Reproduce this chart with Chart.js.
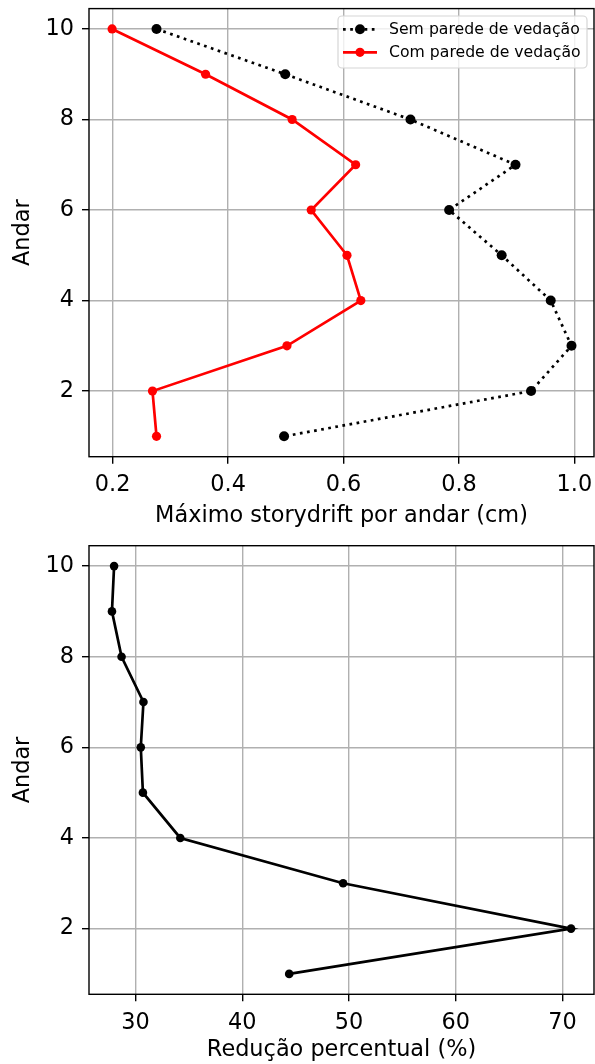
<!DOCTYPE html>
<html>
<head>
<meta charset="utf-8">
<script src="https://cdn.jsdelivr.net/npm/chart.js@4"></script>
<style>
  body { margin: 0; background: #fff; }
  .box { position: absolute; left: 0; width: 595px; height: 532px; }
</style>
</head>
<body>
<div class="box" style="top:0"><canvas id="drift" width="595" height="532"></canvas></div>
<div class="box" style="top:532px"><canvas id="reducao" width="595" height="532"></canvas></div>
<script>
// floors, top to bottom
const andares = [10, 9, 8, 7, 6, 5, 4, 3, 2, 1];
// max storydrift per floor (cm)
const semParede = [0.276, 0.499, 0.716, 0.898, 0.783, 0.874, 0.959, 0.995, 0.925, 0.497];
const comParede = [0.199, 0.361, 0.511, 0.621, 0.544, 0.606, 0.630, 0.502, 0.269, 0.276];
// percent reduction
const reducao = [28.0, 27.8, 28.7, 30.75, 30.5, 30.7, 34.2, 49.45, 70.8, 44.4];

const driftTicks = [0.2, 0.4, 0.6, 0.8, 1.0];
const reducaoTicks = [30, 40, 50, 60, 70];
const andarTicks = [2, 4, 6, 8, 10];

const FONT = 'DejaVu Sans';
const FS = 22.4;

function points(xs) {
  return xs.map(function (v, i) { return { x: v, y: andares[i] }; });
}

// axes frame drawn over the data, like matplotlib spines
const framePlugin = {
  id: 'frame',
  afterDraw(chart) {
    const a = chart.chartArea;
    const ctx = chart.ctx;
    ctx.save();
    ctx.strokeStyle = '#000';
    ctx.lineWidth = 1.4;
    ctx.strokeRect(a.left, a.top, a.right - a.left, a.bottom - a.top);
    ctx.restore();
  }
};

// matplotlib style legend: line sample with marker in the middle
const legendPlugin = {
  id: 'mplLegend',
  afterDraw(chart) {
    const ctx = chart.ctx;
    const box = { x: 338, y: 16, w: 249, h: 52 };
    ctx.save();
    ctx.beginPath();
    ctx.roundRect(box.x, box.y, box.w, box.h, 4);
    ctx.fillStyle = 'rgba(255,255,255,0.8)';
    ctx.fill();
    ctx.strokeStyle = '#d6d6d6';
    ctx.lineWidth = 1.2;
    ctx.stroke();
    chart.data.datasets.forEach(function (ds, i) {
      const y = 29.3 + i * 23;
      ctx.beginPath();
      ctx.setLineDash(ds.borderDash || []);
      ctx.lineCap = 'butt';
      ctx.strokeStyle = ds.borderColor;
      ctx.lineWidth = ds.borderWidth;
      ctx.moveTo(343, y);
      ctx.lineTo(377, y);
      ctx.stroke();
      ctx.setLineDash([]);
      ctx.beginPath();
      ctx.arc(360, y, ds.pointRadius, 0, Math.PI * 2);
      ctx.fillStyle = ds.pointBackgroundColor;
      ctx.fill();
      ctx.fillStyle = '#000';
      ctx.font = '15.7px "' + FONT + '"';
      ctx.textBaseline = 'middle';
      ctx.textAlign = 'left';
      ctx.fillText(ds.label, 389, y + 1);
    });
    ctx.restore();
  }
};

function axis(title, min, max, ticks, fmt, isX, titlePad, size) {
  return {
    type: 'linear',
    position: isX ? 'bottom' : 'left',
    min: min,
    max: max,
    afterBuildTicks: function (s) { s.ticks = ticks.map(function (v) { return { value: v }; }); },
    afterFit: function (s) {
      if (isX) { s.height = size; } else { s.width = size; }
      s.paddingTop = 0; s.paddingBottom = 0; s.paddingLeft = 0; s.paddingRight = 0;
    },
    border: { display: false },
    grid: { color: '#b0b0b0', lineWidth: 1.4, tickLength: 7, tickColor: '#000', tickWidth: 1.4 },
    ticks: {
      color: '#000', padding: 8, font: { family: FONT, size: FS },
      callback: fmt, maxRotation: 0, autoSkip: false
    },
    title: {
      display: true, text: title, color: '#000',
      font: { family: FONT, size: FS }, padding: titlePad
    }
  };
}

function baseOptions(xScale, yScale, padTop) {
  return {
    responsive: false,
    animation: false,
    layout: { autoPadding: false, padding: { top: padTop, right: 1, left: 0, bottom: 0 } },
    plugins: { legend: { display: false }, tooltip: { enabled: false } },
    scales: { x: xScale, y: yScale }
  };
}

new Chart(document.getElementById('drift'), {
  type: 'scatter',
  data: {
    datasets: [{
      label: 'Sem parede de vedação',
      data: points(semParede),
      showLine: true,
      borderColor: '#000',
      borderWidth: 2.7,
      borderDash: [2.7, 4.5],
      pointRadius: 5,
      pointBorderWidth: 0,
      pointBackgroundColor: '#000'
    }, {
      label: 'Com parede de vedação',
      data: points(comParede),
      showLine: true,
      borderColor: '#ff0000',
      borderWidth: 2.7,
      pointRadius: 4.6,
      pointBorderWidth: 0,
      pointBackgroundColor: '#ff0000'
    }]
  },
  options: baseOptions(
    axis('Máximo storydrift por andar (cm)', 0.159, 1.034, driftTicks,
      function (v) { return v.toFixed(1); }, true, { top: 0, bottom: 2 }, 75.3),
    axis('Andar', 0.55, 10.45, andarTicks,
      function (v) { return String(v); }, false, { top: 10, bottom: 0 }, 89),
    8.6),
  plugins: [framePlugin, legendPlugin]
});

new Chart(document.getElementById('reducao'), {
  type: 'scatter',
  data: {
    datasets: [{
      label: 'Redução',
      data: points(reducao),
      showLine: true,
      borderColor: '#000',
      borderWidth: 2.7,
      pointRadius: 4.3,
      pointBorderWidth: 0,
      pointBackgroundColor: '#000'
    }]
  },
  options: baseOptions(
    axis('Redução percentual (%)', 25.65, 72.95, reducaoTicks,
      function (v) { return String(v); }, true, { top: 0, bottom: 0 }, 69.7),
    axis('Andar', 0.55, 10.45, andarTicks,
      function (v) { return String(v); }, false, { top: 10, bottom: 0 }, 89),
    13.7),
  plugins: [framePlugin]
});
</script>
</body>
</html>
